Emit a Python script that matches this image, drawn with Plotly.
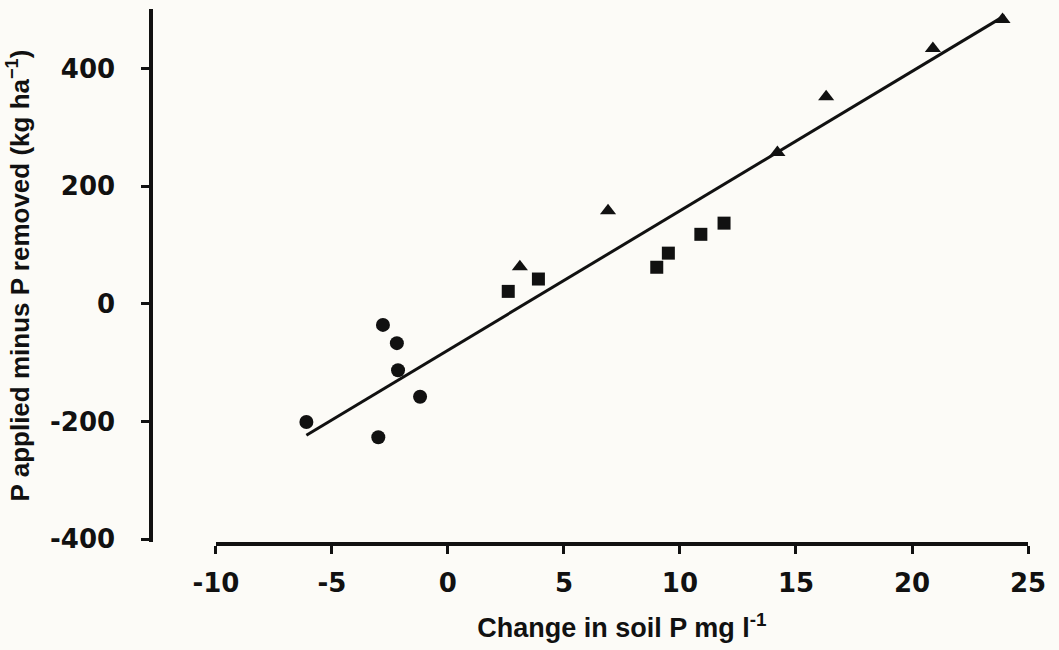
import plotly.graph_objects as go

# Data
circle_x = [-6.1, -2.8, -2.2, -2.15, -1.2, -3.0]
circle_y = [-201, -36, -67, -113, -158, -227]
square_x = [2.6, 3.9, 9.0, 9.5, 10.9, 11.9]
square_y = [21, 42, 62, 86, 118, 137]
tri_x = [3.1, 6.9, 14.2, 16.3, 20.9, 23.9]
tri_y = [63, 158, 257, 352, 434, 483]
fit_slope = 23.7
fit_intercept = -79
fit_x = [-6.1, 24.0]
fit_y = [fit_intercept + fit_slope * v for v in fit_x]

x_ticks = [-10, -5, 0, 5, 10, 15, 20, 25]
x_ticktext = ["-10", "-5", "0", "5", "10", "15", "20", "25"]
y_ticks = [-400, -200, 0, 200, 400]
y_ticktext = ["-400", "-200", "0", "200", "400"]

W, H = 1059, 650
ml, mr, mt, mb = 60, 20, 9, 108
pw = W - ml - mr
x_dom0 = (217 - ml) / pw
x_dom1 = (1035 - ml) / pw
y_pos = (152 - ml) / pw

ink = "#111111"
fig = go.Figure()
fig.add_trace(go.Scatter(x=fit_x, y=fit_y, mode="lines",
                         line=dict(color=ink, width=3), showlegend=False, hoverinfo="skip"))
fig.add_trace(go.Scatter(x=circle_x, y=circle_y, mode="markers",
                         marker=dict(symbol="circle", size=14, color=ink), showlegend=False))
fig.add_trace(go.Scatter(x=square_x, y=square_y, mode="markers",
                         marker=dict(symbol="square", size=13, color=ink), showlegend=False))
fig.add_trace(go.Scatter(x=tri_x, y=tri_y, mode="markers",
                         marker=dict(symbol="triangle-up", size=14, color=ink), showlegend=False))

tickfont = dict(family="DejaVu Sans", size=26, color=ink, weight="bold")
xtitlefont = dict(family="Liberation Sans", size=27, color=ink, weight="bold")
ytitlefont = dict(family="Liberation Sans", size=26, color=ink, weight="bold")

fig.update_layout(
    width=W, height=H,
    margin=dict(l=ml, r=mr, t=mt, b=mb),
    paper_bgcolor="#fcfbf7", plot_bgcolor="rgba(0,0,0,0)",
    xaxis=dict(domain=[x_dom0, x_dom1], range=[-10, 25],
               tickvals=x_ticks, ticktext=x_ticktext, ticks="outside", ticklen=8,
               tickwidth=3, tickcolor=ink, showline=True, linewidth=4, linecolor=ink,
               showgrid=False, zeroline=False, tickfont=tickfont, ticklabelstandoff=7,
               title=dict(text="Change in soil P mg l<sup>-1</sup>", font=xtitlefont, standoff=22)),
    yaxis=dict(anchor="free", position=y_pos, range=[-405, 501],
               tickvals=y_ticks, ticktext=y_ticktext, ticks="outside", ticklen=8,
               tickwidth=3, tickcolor=ink, showline=True, linewidth=4, linecolor=ink,
               showgrid=False, zeroline=False, tickfont=tickfont, ticklabelstandoff=21,
               title=dict(text="P applied minus P removed (kg ha<sup>\u22121</sup>)", font=ytitlefont, standoff=12)),
)
fig.write_html("out.html")
